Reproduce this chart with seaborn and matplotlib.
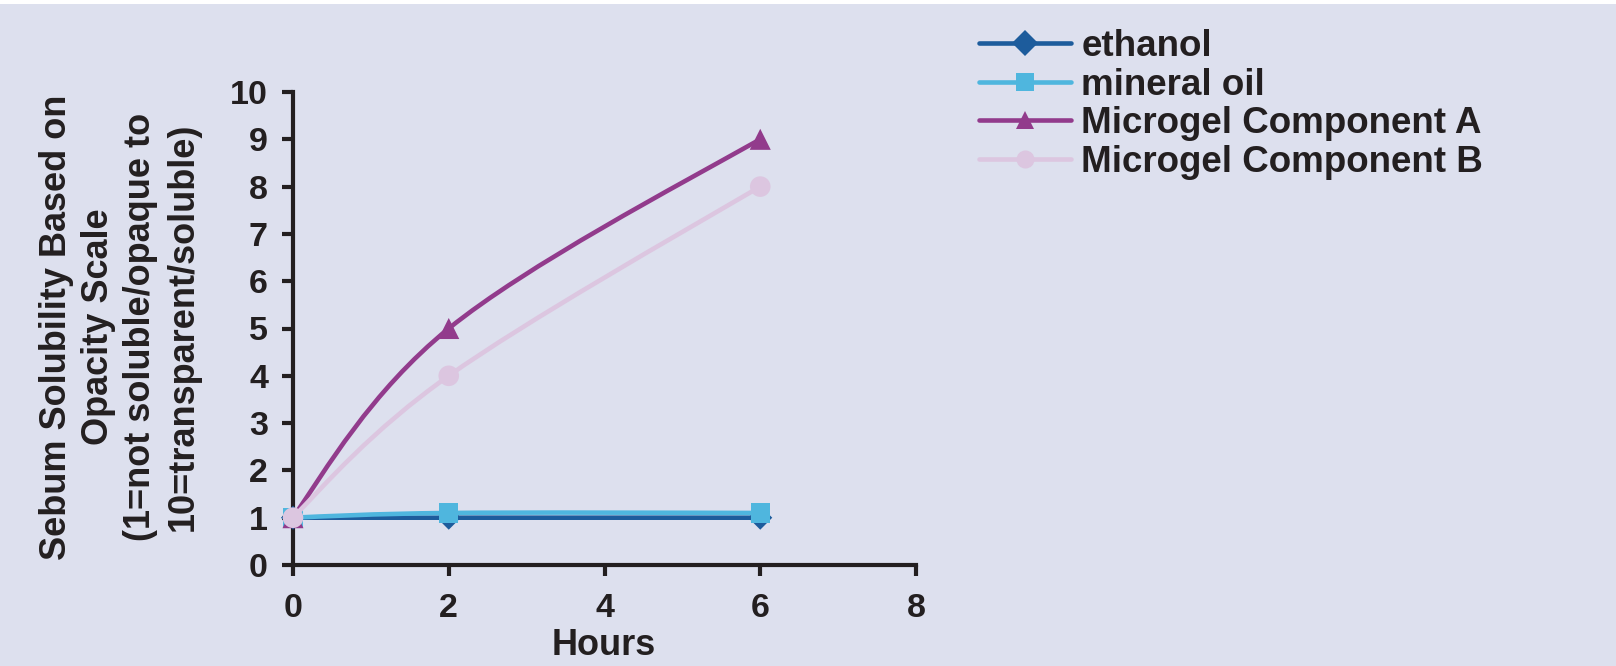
import matplotlib
matplotlib.use("Agg")
import matplotlib.pyplot as plt
from matplotlib.path import Path
from matplotlib.patches import PathPatch, Rectangle
from matplotlib.lines import Line2D
import numpy as np
import pandas as pd
import seaborn as sns

# Measurement times (hours)
hours = [0, 2, 6]

# Sebum solubility scores per solvent
ethanol = [1.0, 1.0, 1.0]
mineral_oil = [1.0, 1.1, 1.1]
microgel_a = [1.0, 5.0, 9.0]
microgel_b = [1.0, 4.0, 8.0]

series_names = ["ethanol", "mineral oil", "Microgel Component A", "Microgel Component B"]
series_values = [ethanol, mineral_oil, microgel_a, microgel_b]
series_colors = ["#1d5c9c", "#4fb6de", "#923b8c", "#dcc6e0"]
series_markers = ["D", "s", "^", "o"]
marker_sizes = [150, 190, 230, 220]

x_ticks = [0, 2, 4, 6, 8]
y_ticks = list(range(0, 11))

BG = "#dde0ee"
INK = "#231f20"

sns.set_theme(style="white")
plt.rcParams["font.family"] = ["Liberation Sans", "DejaVu Sans"]
plt.rcParams["font.weight"] = "bold"

df = pd.DataFrame(
    [(name, h, v) for name, vals in zip(series_names, series_values) for h, v in zip(hours, vals)],
    columns=["series", "hours", "score"],
)

fig = plt.figure(figsize=(16.16, 6.66), dpi=100, facecolor=BG)
fig.patches.append(Rectangle((0, 1 - 4 / 666), 1, 4 / 666, transform=fig.transFigure,
                             facecolor="white", edgecolor="none", zorder=0))
ax = fig.add_axes([293 / 1616, 1 - 565 / 666, 623 / 1616, 473 / 666])
ax.set_facecolor(BG)


def smooth_path(xs, ys):
    """Smoothed Bezier path through the given points (spreadsheet-style curve)."""
    pts = np.column_stack([xs, ys]).astype(float)
    n = len(pts)
    tang = np.zeros_like(pts)
    for i in range(1, n - 1):
        tang[i] = (pts[i + 1] - pts[i - 1]) / 2.0
    if n > 2:
        tang[0] = (pts[1] - pts[0]) - tang[1] / 4.0
        tang[-1] = (pts[-1] - pts[-2]) - tang[-2] / 4.0
    else:
        tang[0] = tang[-1] = pts[-1] - pts[0]
    verts = [tuple(pts[0])]
    codes = [Path.MOVETO]
    for i in range(n - 1):
        c1 = pts[i] + tang[i] / 3.0
        c2 = pts[i + 1] - tang[i + 1] / 3.0
        verts += [tuple(c1), tuple(c2), tuple(pts[i + 1])]
        codes += [Path.CURVE4] * 3
    return Path(verts, codes)


for i, (name, color, marker, ms) in enumerate(zip(series_names, series_colors, series_markers, marker_sizes)):
    sub = df[df["series"] == name]
    patch = PathPatch(smooth_path(sub["hours"], sub["score"]), facecolor="none",
                      edgecolor=color, lw=3.3, capstyle="round", joinstyle="round",
                      zorder=3 + 2 * i, clip_on=False)
    ax.add_patch(patch)
    sns.scatterplot(data=sub, x="hours", y="score", color=color, marker=marker, s=ms,
                    edgecolor="none", linewidth=0, ax=ax, legend=False,
                    zorder=4 + 2 * i, clip_on=False)

ax.set_xlim(0, 8)
ax.set_ylim(0, 10)
ax.set_xticks(x_ticks)
ax.set_yticks(y_ticks)
ax.set_xlabel("")
ax.set_ylabel("")
for side in ["top", "right"]:
    ax.spines[side].set_visible(False)
for side in ["left", "bottom"]:
    ax.spines[side].set_color(INK)
    ax.spines[side].set_linewidth(3)
ax.tick_params(axis="both", direction="out", length=8, width=3, color=INK,
               labelsize=24.5, labelcolor=INK, left=True, bottom=True)
ax.tick_params(axis="x", pad=12)
ax.tick_params(axis="y", pad=10)
for lab in ax.get_xticklabels() + ax.get_yticklabels():
    lab.set_fontweight("bold")

fig.text(604 / 1616, 1 - 655 / 666, "Hours", ha="center", va="baseline",
         fontsize=26, fontweight="bold", color=INK)
fig.text(119.5 / 1616, 1 - 327 / 666,
         "Sebum Solubility Based on\nOpacity Scale\n(1=not soluble/opaque to\n10=transparent/soluble)",
         rotation=90, ha="center", va="center", multialignment="center",
         fontsize=26, fontweight="bold", color=INK, linespacing=1.27)

handles = [Line2D([0], [0], color=c, lw=3.3, marker=m, markersize=13, markeredgewidth=0)
           for c, m in zip(series_colors, series_markers)]
fig.legend(handles, series_names, loc="upper left", bbox_to_anchor=(979 / 1616, 1 - 29 / 666),
           frameon=False, prop={"family": "Liberation Sans", "weight": "bold", "size": 26.5},
           handlelength=2.5, handletextpad=0.28, labelspacing=0.1, borderaxespad=0,
           borderpad=0, labelcolor=INK)

fig.savefig("out.png", dpi=100, facecolor=BG)
